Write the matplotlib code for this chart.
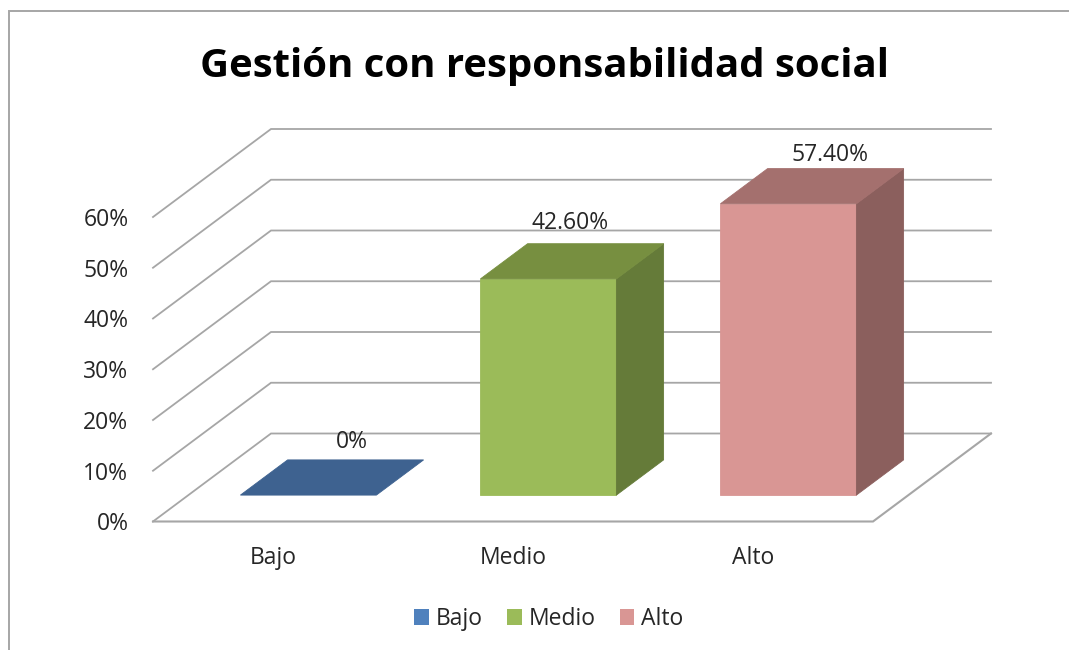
import matplotlib
matplotlib.use("Agg")
import matplotlib.pyplot as plt
from matplotlib.lines import Line2D
from matplotlib.patches import Patch

plt.rcParams['font.family'] = ['Open Sans', 'DejaVu Sans']

categories = ['Bajo', 'Medio', 'Alto']
values = [0, 42.6, 57.4]
value_labels = ['0%', '42.60%', '57.40%']
y_ticks = [0, 10, 20, 30, 40, 50, 60]

front_colors = ['#3E6290', '#9BBB59', '#D99694']
top_colors = ['#3E6290', '#778F40', '#A4706E']
side_colors = ['#34506F', '#657B39', '#8B5F5D']
legend_colors = ['#4F81BD', '#9BBB59', '#D99694']
label_offsets = [(20, 36), (-2, 38), (18, 31)]

GRID = '#A6A6A6'
TEXT = '#262626'
W, H = 1069, 650
FONT = 16.5

# the floor runs back by this much per unit of depth, in data units
DEPTH_X = 118 / 240
DEPTH_Y = 88 / 5.075
BAR_WIDTH = 136 / 240
BAR_NEAR = 0.30
BAR_FAR = 0.70


def project(x, y, depth=0.0):
    return x + depth * DEPTH_X, y + depth * DEPTH_Y


def face(ax, corners, color, z):
    pts = [project(*c) for c in corners]
    ax.fill([p[0] for p in pts], [p[1] for p in pts], color=color,
            linewidth=0.6, clip_on=False, zorder=z)


fig = plt.figure(figsize=(W / 100, H / 100), dpi=100)
ax = fig.add_axes([153 / W, (H - 521.5) / H, 720 / W, 304.5 / H])
ax.set_xlim(0, 3)
ax.set_ylim(0, 60)
for s in ax.spines.values():
    s.set_visible(False)

# walls and floor
for t in y_ticks:
    pts = [project(0, t), project(0, t, 1), project(3, t, 1)]
    ax.plot([p[0] for p in pts], [p[1] for p in pts], color=GRID, lw=1.3,
            clip_on=False, zorder=1, solid_joinstyle='miter')
pts = [project(0, 0), project(3, 0), project(3, 0, 1)]
ax.plot([p[0] for p in pts], [p[1] for p in pts], color=GRID, lw=1.5,
        clip_on=False, zorder=1, solid_joinstyle='miter')

# bars: front, top and right side
for i, v in enumerate(values):
    x0 = i + 0.5 - BAR_WIDTH / 2
    x1 = i + 0.5 + BAR_WIDTH / 2
    n, f = BAR_NEAR, BAR_FAR
    if v > 0:
        face(ax, [(x0, 0, n), (x1, 0, n), (x1, v, n), (x0, v, n)], front_colors[i], 3)
        face(ax, [(x1, 0, n), (x1, 0, f), (x1, v, f), (x1, v, n)], side_colors[i], 3)
    face(ax, [(x0, v, n), (x1, v, n), (x1, v, f), (x0, v, f)], top_colors[i], 3)
    ax.annotate(value_labels[i], project(i + 0.5, v, 0.5),
                xytext=(label_offsets[i][0] * 0.72, label_offsets[i][1] * 0.72),
                textcoords='offset points', ha='center', va='center',
                fontsize=FONT, color=TEXT, zorder=4, annotation_clip=False)

ax.set_xticks([i + 0.5 for i in range(len(categories))])
ax.set_xticklabels(categories, fontsize=FONT, color=TEXT)
ax.set_yticks(y_ticks)
ax.set_yticklabels([f'{t}%' for t in y_ticks], fontsize=FONT, color=TEXT)
ax.tick_params(axis='x', length=0, pad=18)
ax.tick_params(axis='y', length=0, pad=17.7)

fig.text(544 / W, 1 - 66 / H, 'Gestión con responsabilidad social', ha='center',
         va='center', fontsize=28.9, fontweight='bold', color='black')

handles = [Patch(facecolor=c, edgecolor='none') for c in legend_colors]
fig.legend(handles, categories, loc='center', ncol=3, frameon=False,
           bbox_to_anchor=(549 / W, 1 - 619 / H), fontsize=FONT,
           labelcolor=TEXT, handlelength=0.65, handleheight=0.65,
           handletextpad=0.3, columnspacing=1.04)

# outer chart border, open at the right and the bottom
fig.add_artist(Line2D([9 / W, 9 / W, 1], [0, 1 - 11 / H, 1 - 11 / H],
                      color=GRID, lw=1.4, solid_joinstyle='miter'))

fig.savefig('out.png', dpi=100)
